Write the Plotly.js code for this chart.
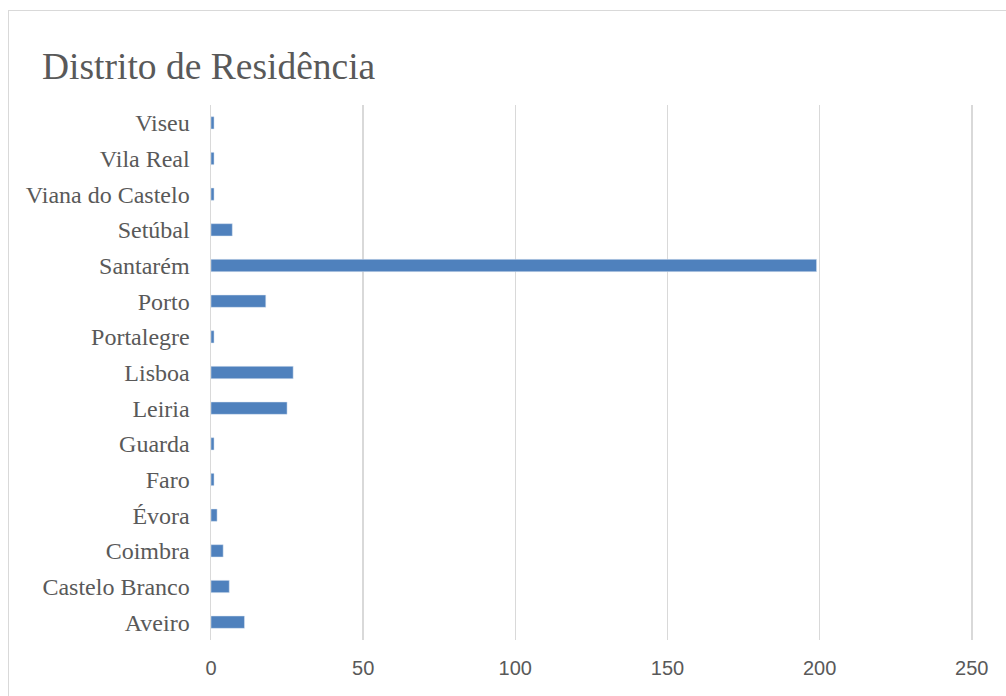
<!DOCTYPE html>
<html>
<head>
<meta charset="utf-8">
<script src="https://cdn.plot.ly/plotly-3.0.1.min.js"></script>
<style>
html,body{margin:0;padding:0;background:#fff;overflow:hidden;}
#frame{position:absolute;left:8px;top:10px;width:1010px;height:700px;border:1.5px solid #d9d9d9;box-sizing:border-box;pointer-events:none;z-index:5;}
#chart{position:absolute;left:0;top:0;width:1006px;height:696px;}
</style>
</head>
<body>
<div id="chart"></div>
<div id="frame"></div>
<script>
const categories = ["Aveiro","Castelo Branco","Coimbra","Évora","Faro","Guarda","Leiria","Lisboa","Portalegre","Porto","Santarém","Setúbal","Viana do Castelo","Vila Real","Viseu"];
const values = [11, 6, 4, 2, 1, 1, 25, 27, 1, 18, 199, 7, 1, 1, 1];
const xTicks = [0, 50, 100, 150, 200, 250];
const chartTitle = "Distrito de Residência";

const trace = {
  type: 'bar',
  orientation: 'h',
  y: categories,
  x: values,
  marker: {color: '#4f81bd', line: {color: '#dce6f2', width: 0.5}},
  hoverinfo: 'x+y'
};

const layout = {
  width: 1006,
  height: 696,
  margin: {l: 211, r: 33, t: 105, b: 56},
  paper_bgcolor: '#ffffff',
  plot_bgcolor: '#ffffff',
  bargap: 0.655,
  showlegend: false,
  title: {
    text: chartTitle,
    x: 42/1006, xanchor: 'left', xref: 'container',
    y: 1 - 66/696, yanchor: 'middle', yref: 'container',
    font: {family: 'Liberation Serif, Times New Roman, serif', size: 37.5, color: '#595959'}
  },
  xaxis: {
    range: [0, 250.4],
    tickvals: xTicks,
    ticktext: xTicks.map(String),
    showgrid: true,
    gridcolor: '#d9d9d9',
    gridwidth: 1.5,
    zeroline: false,
    showline: false,
    ticks: '',
    ticklabelstandoff: 14,
    tickfont: {family: 'Liberation Sans, Arial, sans-serif', size: 20, color: '#595959'},
    fixedrange: true
  },
  yaxis: {
    type: 'category',
    categoryorder: 'array',
    categoryarray: categories,
    showgrid: false,
    showline: true,
    linecolor: '#d9d9d9',
    linewidth: 1.5,
    zeroline: false,
    ticks: '',
    ticklabelstandoff: 15,
    tickfont: {family: 'Liberation Serif, Times New Roman, serif', size: 24, color: '#595959'},
    fixedrange: true
  }
};

Plotly.newPlot('chart', [trace], layout, {displayModeBar: false, staticPlot: true});
</script>
</body>
</html>
